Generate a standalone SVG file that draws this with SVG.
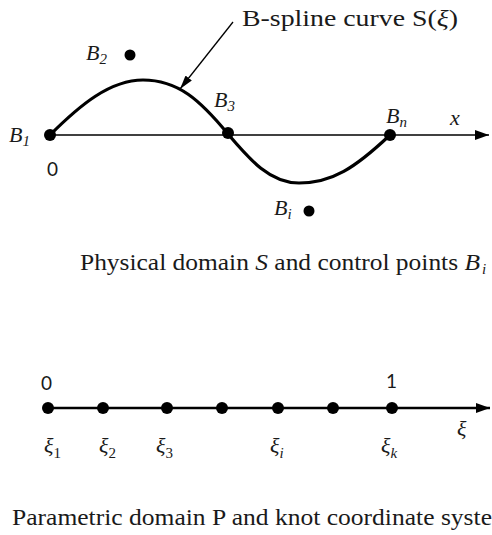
<svg xmlns="http://www.w3.org/2000/svg" width="492" height="535" viewBox="0 0 492 535">
<defs>
<style>
.m{font-family:'Liberation Serif','Times New Roman',Times,serif;font-style:italic;font-size:22px;fill:#1a1a1a}
.s{font-size:15px}
.n{font-family:Lato,'Liberation Sans',Arial,sans-serif;font-size:19px;fill:#1a1a1a}
.t{font-family:'Liberation Serif','Times New Roman',Times,serif;font-size:23px;fill:#1a1a1a}
.dot{fill:#000}
</style>
<marker id="ah" viewBox="0 0 14 8" refX="14" refY="4" markerWidth="14" markerHeight="8" markerUnits="userSpaceOnUse" orient="auto"><path d="M0,0L14,4L0,8z" fill="#000"/></marker>
<marker id="ah2" viewBox="0 0 14 10" refX="14" refY="5" markerWidth="14" markerHeight="10" markerUnits="userSpaceOnUse" orient="auto"><path d="M0,0L14,5L0,10z" fill="#000"/></marker>
</defs>
<g id="connectors">
<line x1="50" y1="135" x2="489" y2="135" stroke="#000" stroke-width="1.6" marker-end="url(#ah2)"/>
<path d="M50,135 C80,105 110,80 143,80 C178,80 200,100 228,134 C250,160 270,183 299,183 C332,183 355,168 390,135" fill="none" stroke="#000" stroke-width="3.2"/>
<line x1="233" y1="22" x2="180" y2="89" stroke="#000" stroke-width="1.3" marker-end="url(#ah)"/>
<line x1="48" y1="408" x2="490" y2="408" stroke="#000" stroke-width="2.6" marker-end="url(#ah2)"/>
</g>
<g id="physical">
<circle class="dot" cx="50" cy="135" r="6"/>
<circle class="dot" cx="130" cy="55" r="5.5"/>
<circle class="dot" cx="228" cy="133" r="6"/>
<circle class="dot" cx="390" cy="135" r="6"/>
<circle class="dot" cx="309" cy="211" r="5.5"/>
<text class="m" x="9" y="142">B<tspan class="s" dy="4">1</tspan></text>
<text class="m" x="86" y="60">B<tspan class="s" dy="4">2</tspan></text>
<text class="m" x="214" y="107">B<tspan class="s" dy="4">3</tspan></text>
<text class="m" x="386" y="123">B<tspan class="s" dy="4">n</tspan></text>
<text class="m" x="274" y="215">B<tspan class="s" dy="4">i</tspan></text>
<text class="m" x="450" y="125">x</text>
<text class="n" x="47" y="176">0</text>
<text class="t" x="242" y="26" font-size="21" textLength="216" lengthAdjust="spacingAndGlyphs">B-spline curve S(<tspan font-style="italic">ξ</tspan>)</text>
<text class="t" x="80" y="270" textLength="400" lengthAdjust="spacingAndGlyphs">Physical domain <tspan font-style="italic">S</tspan> and control points <tspan font-style="italic">B</tspan></text>
<text class="m s" x="482" y="274">i</text>
</g>
<g id="parametric">
<circle class="dot" cx="48" cy="408" r="6"/>
<circle class="dot" cx="103" cy="408" r="6"/>
<circle class="dot" cx="167" cy="408" r="6"/>
<circle class="dot" cx="222" cy="408" r="6"/>
<circle class="dot" cx="278" cy="408" r="6"/>
<circle class="dot" cx="333" cy="408" r="6"/>
<circle class="dot" cx="392" cy="408" r="6"/>
<text class="n" x="41" y="390">0</text>
<text class="n" x="386" y="388">1</text>
<text class="m" x="457" y="436" font-size="25">ξ</text>
<text class="m" x="44" y="453" font-size="25">ξ<tspan class="s" font-style="normal" dy="5">1</tspan></text>
<text class="m" x="99" y="453" font-size="25">ξ<tspan class="s" font-style="normal" dy="5">2</tspan></text>
<text class="m" x="156" y="453" font-size="25">ξ<tspan class="s" font-style="normal" dy="5">3</tspan></text>
<text class="m" x="270" y="453" font-size="25">ξ<tspan class="s" dy="5">i</tspan></text>
<text class="m" x="381" y="453" font-size="25">ξ<tspan class="s" dy="5">k</tspan></text>
<text class="t" x="12" y="525" font-size="24" textLength="480" lengthAdjust="spacingAndGlyphs">Parametric domain P and knot coordinate syste</text>
</g>
</svg>
